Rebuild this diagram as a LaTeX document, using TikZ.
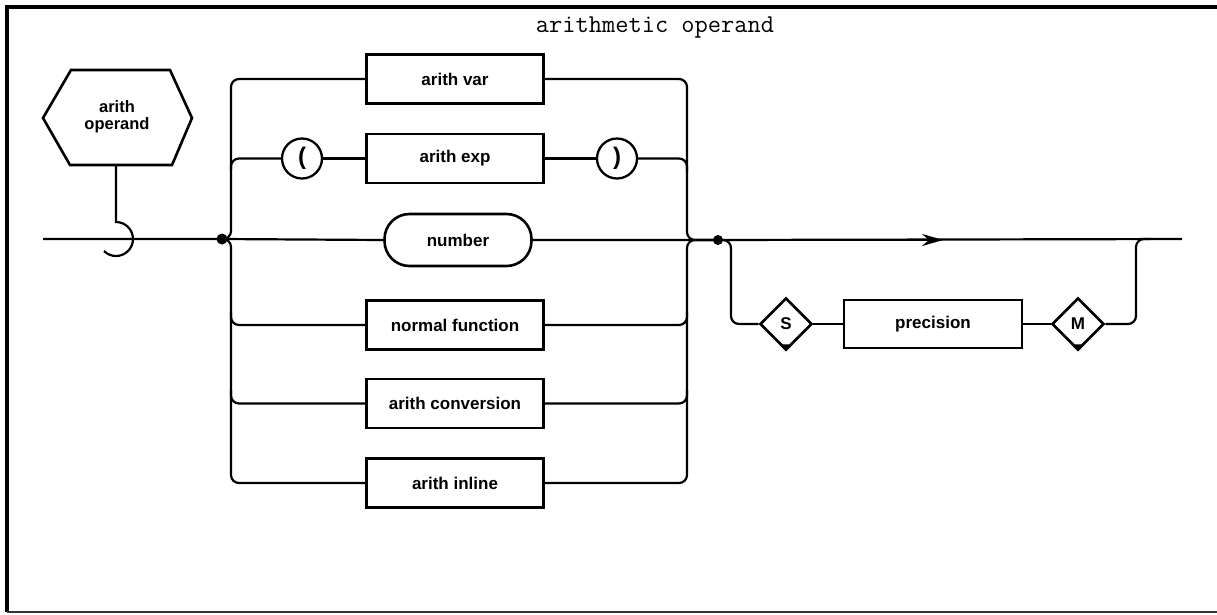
\documentclass[tikz,border=0pt]{standalone}
\usepackage{fontspec}
\setsansfont{Liberation Sans}
\usetikzlibrary{shapes.geometric,arrows.meta}
\begin{document}
\begin{tikzpicture}[x=1pt,y=-1pt,
  conn/.style={line width=2.2pt, rounded corners=8pt},
  lbl/.style={font=\sffamily\bfseries\fontsize{17}{17}\selectfont},
  box/.style={draw, line width=2.6pt, minimum width=177pt, minimum height=49pt, inner sep=0pt, lbl},
  term/.style={draw, circle, line width=2.3pt, minimum size=40pt, inner sep=0pt, font=\sffamily\bfseries\fontsize{24}{24}\selectfont},
  stad/.style={draw, line width=2.6pt, rounded corners=25pt, minimum width=147pt, minimum height=52pt, inner sep=0pt, lbl},
  dia/.style={draw, diamond, aspect=1, line width=2.6pt, minimum width=52pt, minimum height=52pt, inner sep=0pt, lbl},
  jdot/.style={circle, fill, inner sep=0pt, minimum size=11pt}
]
\useasboundingbox (0,0) rectangle (1217,614);
% frame
\draw[line width=3.2pt] (1217,7) -- (7,7) -- (7,612);
\draw[line width=1.8pt, black!80] (7,612) -- (1217,612);
% title
\node[font=\ttfamily\fontsize{25.7}{26}\selectfont] (title) at (655,27) {arithmetic operand};
% hexagon
\draw[line width=2.6pt] (43,118) -- (71,70) -- (170,70) -- (192,118) -- (172,165) -- (70,165) -- cycle;
\node[align=center, font=\sffamily\bfseries\fontsize{16.5}{17}\selectfont] (hex) at (117,117) {arith\\operand};
\coordinate (hexb) at (116,165);
\coordinate (start) at (43,239);
\coordinate (end) at (1182,239);
% nodes
\node[box] (avar) at (455,79) {arith var};
\node[box] (aexp) at (455,158.5) {arith exp};
\node[term] (lp) at (302,158.5) {(};
\node[term] (rp) at (617,158.5) {)};
\node[stad] (num) at (458,240) {number};
\node[box] (nf) at (455,325) {normal function};
\node[box] (acv) at (455,403.5) {arith conversion};
\node[box] (ain) at (455,483) {arith inline};
\node[dia] (S) at (786,324) {S};
\node[box, minimum width=178pt, minimum height=48pt] (prec) at (933,324) {precision};
\node[dia] (M) at (1078,324) {M};
% marks at diamond bottoms
\fill (S.south) -- ([xshift=-7pt,yshift=7pt]S.south) -- ([xshift=7pt,yshift=7pt]S.south) -- cycle;
\fill (M.south) -- ([xshift=-7pt,yshift=7pt]M.south) -- ([xshift=7pt,yshift=7pt]M.south) -- cycle;
% hook
\draw[line width=2.2pt] (hexb) -- (116,222) arc[start angle=-90, end angle=135, radius=17];
% junction dots
\node[jdot] (j1) at (222,239) {};
\node[jdot, minimum size=10pt] (j2) at (718,240) {};
% main line
\draw[conn] (start) -- (j1.center) -- (num.west);
\draw[conn] (num.east) -- (j2.center) -- (end);
\draw[line width=2.2pt, -{Stealth[length=21pt,width=12pt,inset=7pt]}] (j2.center) -- (943,240);
% left bus
\draw[conn] (j1.center) -- (231,239) -- (231,79) -- (avar.west);
\draw[conn] (j1.center) -- (231,239) -- (231,483) -- (ain.west);
\draw[conn] (231,170) -- (231,158.5) -- (lp.west);
\draw[conn] (lp.east) -- (aexp.west);
\draw[conn] (aexp.east) -- (rp.west);
\draw[conn] (231,312) -- (231,325) -- (nf.west);
\draw[conn] (231,390) -- (231,403.5) -- (acv.west);
% right bus
\draw[conn] (avar.east) -- (687,79) -- (687,240) -- (j2.center);
\draw[conn] (ain.east) -- (687,483) -- (687,240) -- (j2.center);
\draw[conn] (rp.east) -- (687,158.5) -- (687,172);
\draw[conn] (nf.east) -- (687,325) -- (687,312);
\draw[conn] (acv.east) -- (687,403.5) -- (687,390);
% optional precision branch
\draw[conn] (j2.center) -- (731,240) -- (731,324) -- (S.west);
\draw[conn] (S.east) -- (prec.west);
\draw[conn] (prec.east) -- (M.west);
\draw[conn] (M.east) -- (1136,324) -- (1136,239) -- (1150,239);
\end{tikzpicture}
\end{document}
